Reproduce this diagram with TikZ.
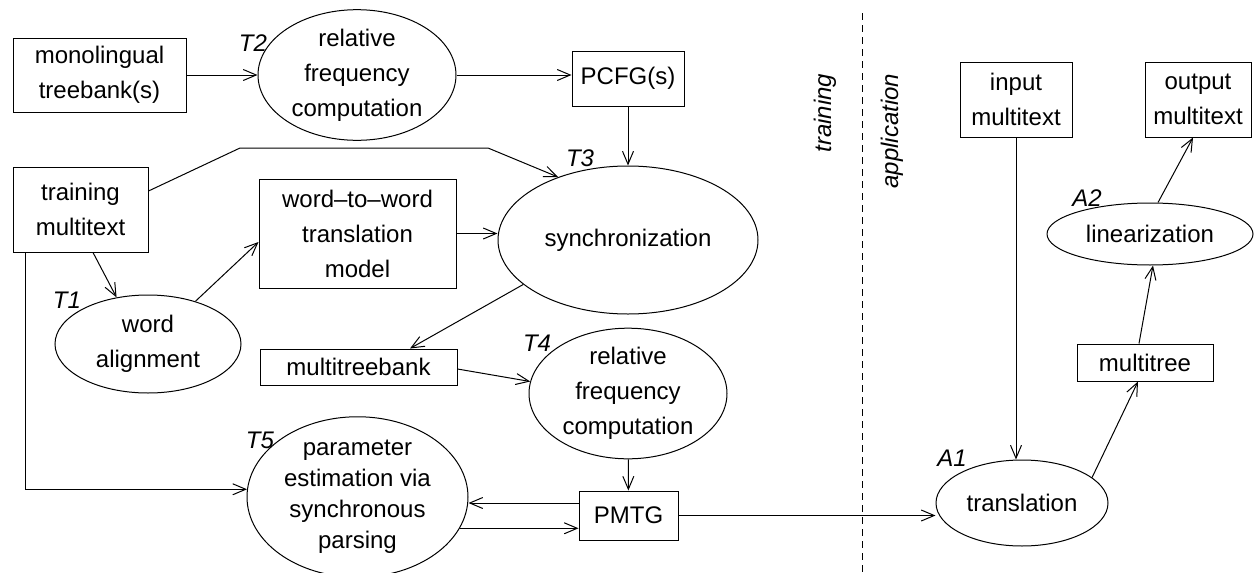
\documentclass[tikz,border=0pt]{standalone}
\usepackage{fontspec}
\setmainfont{Liberation Sans}
\usetikzlibrary{shapes.geometric,arrows.meta}
\begin{document}
\begin{tikzpicture}[x=1pt,y=-1pt,
  every node/.style={font=\fontsize{24}{35}\selectfont, align=center, inner sep=0pt},
  box/.style={draw, rectangle, line width=1pt},
  proc/.style={draw, ellipse, line width=1pt},
  tag/.style={font=\fontsize{24}{35}\selectfont\itshape},
  arr/.style={line width=1pt, -{Straight Barb[length=13pt,width=11pt,line width=1pt]}},
  ln/.style={line width=1pt}]
\useasboundingbox (0,0) rectangle (1254,573);

% nodes
\node[box, minimum width=173pt, minimum height=74pt] (mono) at (99.5,75) {monolingual\\treebank(s)};
\node[proc, minimum width=198pt, minimum height=122pt] (t2) at (357,75) {relative\\frequency\\computation};
\node[tag] (lt2) at (253,43) {T2};
\node[box, minimum width=112pt, minimum height=55pt] (pcfg) at (628,78.5) {PCFG(s)};
\node[proc, minimum width=260pt, minimum height=148pt] (sync) at (628,240) {synchronization};
\node[tag] (lt3) at (580,158) {T3};
\node[box, minimum width=135pt, minimum height=85pt] (train) at (80.5,209.5) {training\\multitext};
\node[box, minimum width=197pt, minimum height=109pt] (w2w) at (357.5,233.5) {word--to--word\\translation\\model};
\node[proc, minimum width=186pt, minimum height=98pt] (walign) at (148,344) {word\\alignment};
\node[tag] (lt1) at (67,300) {T1};
\node[box, minimum width=197pt, minimum height=36pt] (mtb) at (358.5,367) {multitreebank};
\node[proc, minimum width=198pt, minimum height=121pt] (t4) at (628,393.5) {relative\\frequency\\computation};
\node[tag] (lt4) at (537,343) {T4};
\node[box, minimum width=99pt, minimum height=49pt] (pmtg) at (628.5,515.5) {PMTG};
\node[proc, minimum width=221pt, minimum height=148pt, font=\fontsize{24}{31}\selectfont] (t5) at (357.5,497) {parameter\\estimation via\\synchronous\\parsing};
\node[tag] (lt5) at (260,440) {T5};

\node[box, minimum width=112pt, minimum height=75pt] (input) at (1016,99.5) {input\\multitext};
\node[box, minimum width=106pt, minimum height=75pt] (out) at (1198,99.5) {output\\multitext};
\node[proc, minimum width=206pt, minimum height=62pt] (lin) at (1150,234) {linearization};
\node[tag] (la2) at (1087,198) {A2};
\node[box, minimum width=136pt, minimum height=37pt] (mt) at (1145,362.5) {multitree};
\node[proc, minimum width=172pt, minimum height=86pt] (trans) at (1022,503) {translation};
\node[tag] (la1) at (952,458) {A1};

\node[tag, rotate=90] (ltrain) at (825,113) {training};
\node[tag, rotate=90] (lapp) at (892,131) {application};

% separator
\coordinate (d1) at (862,13);
\coordinate (d2) at (862,573);
\draw[ln, dash pattern=on 7pt off 5pt] (d1) -- (d2);

% connectors
\draw[arr] (mono) -- (t2);
\draw[arr] (t2.east) -- (t2.east -| pcfg.west);
\draw[arr] (pcfg) -- (sync);
\coordinate (k1) at (240,148);
\coordinate (k2) at (488,148);
\draw[arr] ([yshift=18.5pt]train.east) -- (k1) -- (k2) -- (sync.138);
\draw[arr] (w2w.east) -- (w2w.east -| sync.west);
\draw[arr] ([xshift=12.5pt]train.south) -- (walign.124);
\draw[arr] (walign.42) -- ([yshift=-8.5pt]w2w.west);
\draw[arr] (sync.203) -- ([xshift=51.5pt]mtb.north);
\draw[arr] ([yshift=-2pt]mtb.east) -- (t4.173);
\draw[arr] (t4) -- (pmtg);
\draw[arr] ([yshift=12.5pt]pmtg.west) -- ([yshift=12.5pt]pmtg.west -| t5.east);
\draw[arr] (t5.-17.2) -- (t5.-17.2 -| pmtg.west);
\draw[arr] ([xshift=-55.5pt]train.south) |- (t5.176);
\draw[arr] (pmtg.east) -- (pmtg.east -| trans.west);
\draw[arr] (input.south) -- (input.south |- trans.north);
\draw[arr] (trans.20) -- ([xshift=-7pt]mt.south);
\draw[arr] ([xshift=-6pt]mt.north) -- ([xshift=3pt]lin.south);
\draw[arr] ([xshift=8pt]lin.north) -- ([xshift=-5pt]out.south);
\end{tikzpicture}
\end{document}
